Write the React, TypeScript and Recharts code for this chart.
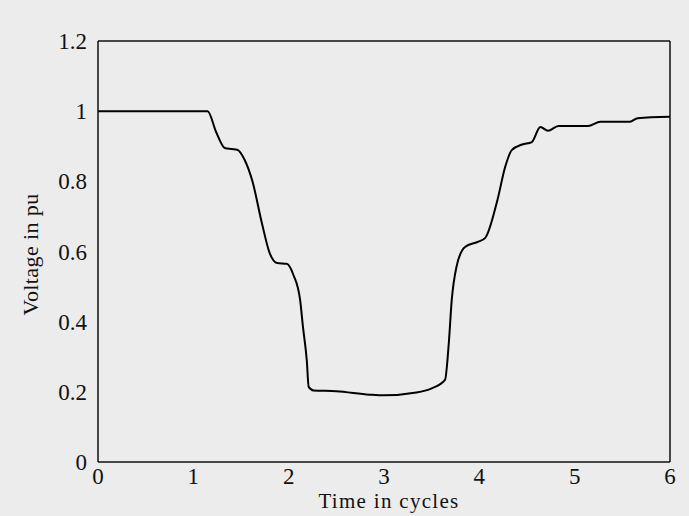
// Voltage sag profile – single black trace, boxed axes, serif labels
import { LineChart, Line, XAxis, YAxis, ReferenceLine } from "recharts";

const timeCycles = [
  0, 1.15, 1.24, 1.33, 1.4, 1.46, 1.54, 1.62, 1.72, 1.8, 1.88, 1.98, 2.05, 2.12,
  2.15, 2.19, 2.21, 2.26, 2.5, 2.85, 3.0, 3.34, 3.5, 3.64, 3.68, 3.71, 3.76,
  3.85, 3.98, 4.06, 4.19, 4.27, 4.34, 4.45, 4.55, 4.64, 4.72, 4.83, 5.14, 5.27,
  5.58, 5.66, 6.0,
];
const voltagePu = [
  1, 1, 0.94, 0.895, 0.892, 0.89, 0.86, 0.8, 0.68, 0.596, 0.567, 0.565, 0.533,
  0.462, 0.385, 0.29, 0.214, 0.204, 0.202, 0.192, 0.19, 0.198, 0.21, 0.234,
  0.34, 0.46, 0.556, 0.613, 0.627, 0.638, 0.747, 0.84, 0.889, 0.905, 0.912,
  0.955, 0.944, 0.958, 0.958, 0.97, 0.97, 0.98, 0.984,
];
const xTicks = [0, 1, 2, 3, 4, 5, 6];
const yTicks = [0, 0.2, 0.4, 0.6, 0.8, 1, 1.2];

const data = timeCycles.map((t, i) => ({ t, v: voltagePu[i] }));

const FONT = '"Liberation Serif", "Times New Roman", serif';
const BG = "#ececec";
const INK = "#111";

function YTitle(props: any) {
  const vb = props.viewBox;
  const cy = vb.y + vb.height / 2 + 3;
  return (
    <text
      x={38}
      y={cy}
      transform={`rotate(-90 38 ${cy})`}
      textAnchor="middle"
      fontFamily={FONT}
      fontSize={22}
      letterSpacing={0.4}
      fill={INK}
    >
      Voltage in pu
    </text>
  );
}

function XTitle(props: any) {
  const vb = props.viewBox;
  return (
    <text
      x={vb.x + vb.width / 2 + 5}
      y={508}
      textAnchor="middle"
      fontFamily={FONT}
      fontSize={21}
      letterSpacing={1.3}
      fill={INK}
    >
      Time in cycles
    </text>
  );
}

export default function App() {
  const tick = { fontSize: 23, fill: INK, fontFamily: FONT };
  return (
    <div
      style={{
        position: "absolute",
        left: 0,
        top: 0,
        width: 689,
        height: 516,
        background: BG,
      }}
    >
      <LineChart
        width={689}
        height={516}
        data={data}
        margin={{ top: 41, right: 19, bottom: 24, left: 0 }}
      >
        <XAxis
          dataKey="t"
          type="number"
          domain={[0, 6]}
          ticks={xTicks}
          tick={tick}
          tickLine={false}
          tickSize={0}
          tickMargin={6}
          axisLine={{ stroke: INK, strokeWidth: 1.5 }}
          height={30}
          label={<XTitle />}
        />
        <YAxis
          type="number"
          domain={[0, 1.2]}
          ticks={yTicks}
          tick={tick}
          tickLine={false}
          tickSize={0}
          tickMargin={11}
          axisLine={{ stroke: INK, strokeWidth: 1.5 }}
          width={98}
          label={<YTitle />}
        />
        <ReferenceLine y={1.2} stroke={INK} strokeWidth={1.5} ifOverflow="visible" />
        <ReferenceLine x={6} stroke={INK} strokeWidth={1.5} ifOverflow="visible" />
        <Line
          dataKey="v"
          type="monotone"
          stroke="#000"
          strokeWidth={2}
          dot={false}
          isAnimationActive={false}
        />
      </LineChart>
    </div>
  );
}
